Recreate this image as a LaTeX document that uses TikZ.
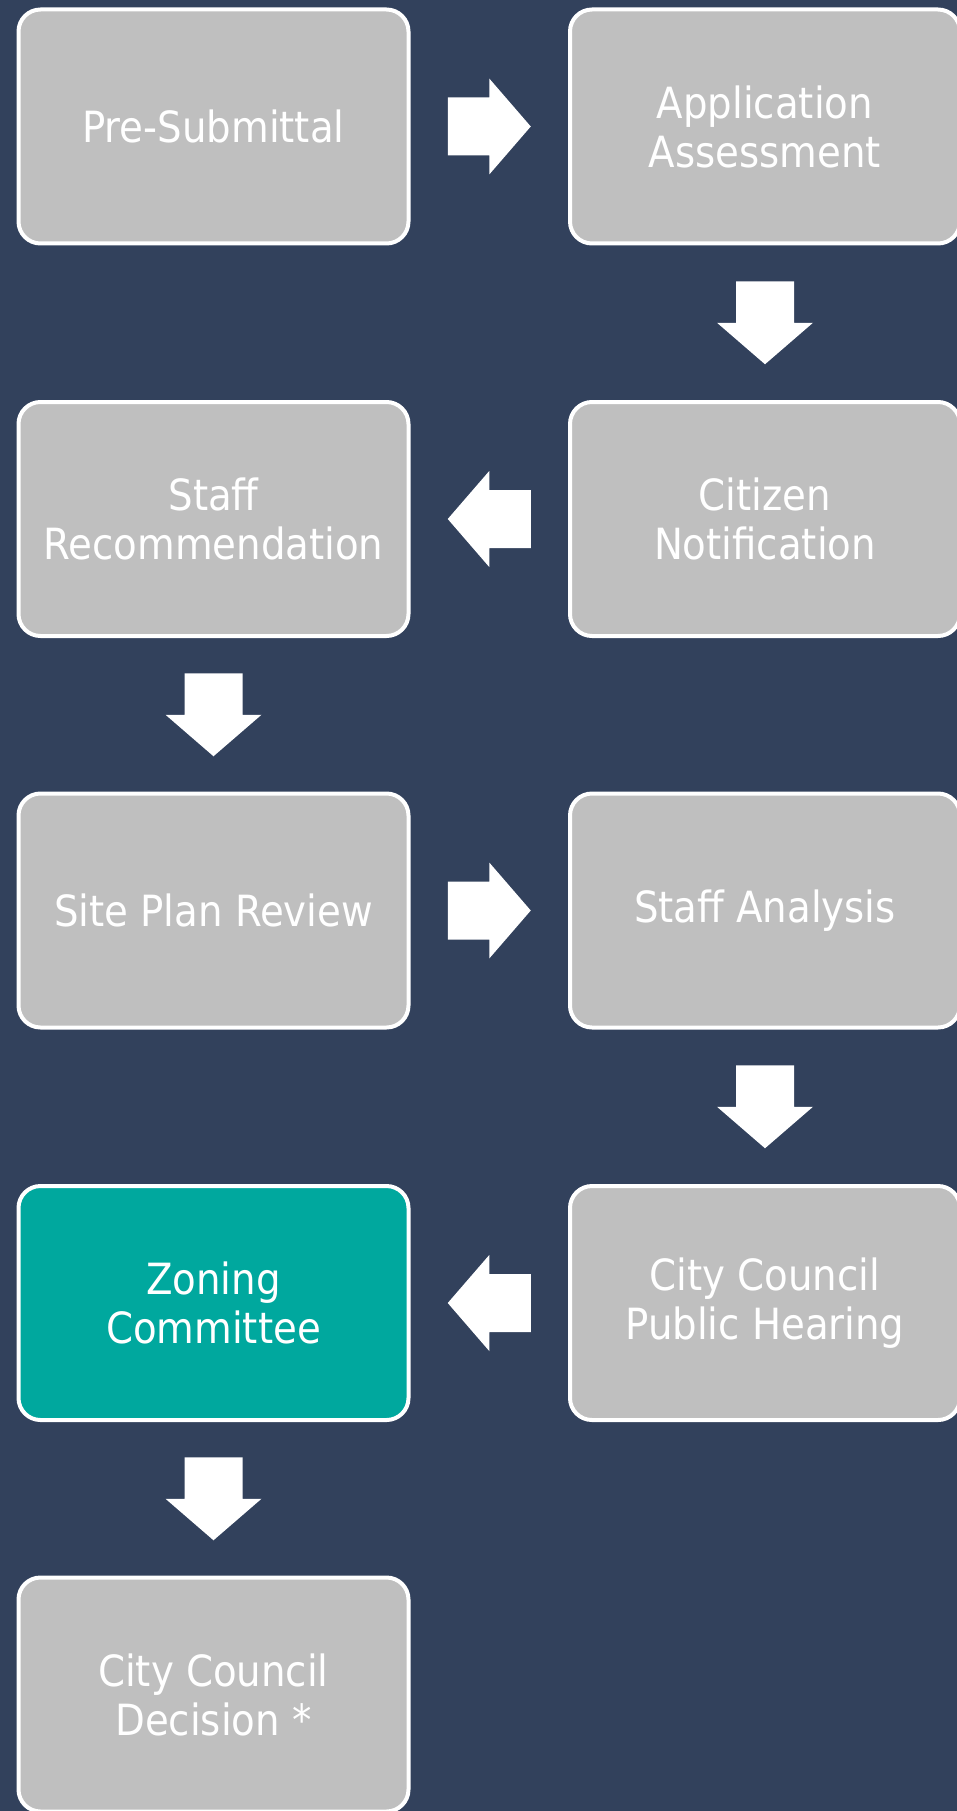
\documentclass[tikz,border=0pt]{standalone}
\usepackage{fontspec}
\setmainfont{DejaVu Sans Condensed}
\usetikzlibrary{calc}
\definecolor{navybg}{RGB}{50,65,92}
\definecolor{boxgray}{RGB}{191,191,191}
\definecolor{zoneteal}{RGB}{0,168,158}
\newcommand{\flowarrow}[3]{%
\path ($(#1)!0.5!(#2)$) coordinate (mid);
\fill[white,shift={(mid)},rotate=#3] (-41.5,-29) -- (0,-29) -- (0,-48) -- (41.5,0) -- (0,48) -- (0,29) -- (-41.5,29) -- cycle;
}
\begin{document}
\begin{tikzpicture}[
	x=1pt,y=1pt,
	stage/.style={draw=white,line width=4pt,fill=boxgray,rounded corners=22pt,minimum width=390pt,minimum height=234pt,inner sep=0pt,text=white,align=center,font=\fontsize{43}{49}\selectfont},
	current/.style={stage,fill=zoneteal}
]
\useasboundingbox (0,0) rectangle (956,-1811);
\fill[navybg] (-5,5) rectangle (961,-1816);
\node[stage] (presub) at (213.5,-126.5) {Pre-Submittal};
\node[stage] (assess) at (765,-126.5) {Application\\Assessment};
\node[stage] (notify) at (765,-519) {Citizen\\Notification};
\node[stage] (recomm) at (213.5,-519) {Staff\\Recommendation};
\node[stage] (siteplan) at (213.5,-910.5) {Site Plan Review};
\node[stage] (analysis) at (765,-910.5) {Staff Analysis};
\node[stage] (hearing) at (765,-1303) {City Council\\Public Hearing};
\node[current] (zoning) at (213.5,-1303) {Zoning\\Committee};
\node[stage] (decision) at (213.5,-1694.5) {City Council\\Decision *};
\flowarrow{presub.east}{assess.west}{0}
\flowarrow{assess.south}{notify.north}{-90}
\flowarrow{notify.west}{recomm.east}{180}
\flowarrow{recomm.south}{siteplan.north}{-90}
\flowarrow{siteplan.east}{analysis.west}{0}
\flowarrow{analysis.south}{hearing.north}{-90}
\flowarrow{hearing.west}{zoning.east}{180}
\flowarrow{zoning.south}{decision.north}{-90}
\end{tikzpicture}
\end{document}
